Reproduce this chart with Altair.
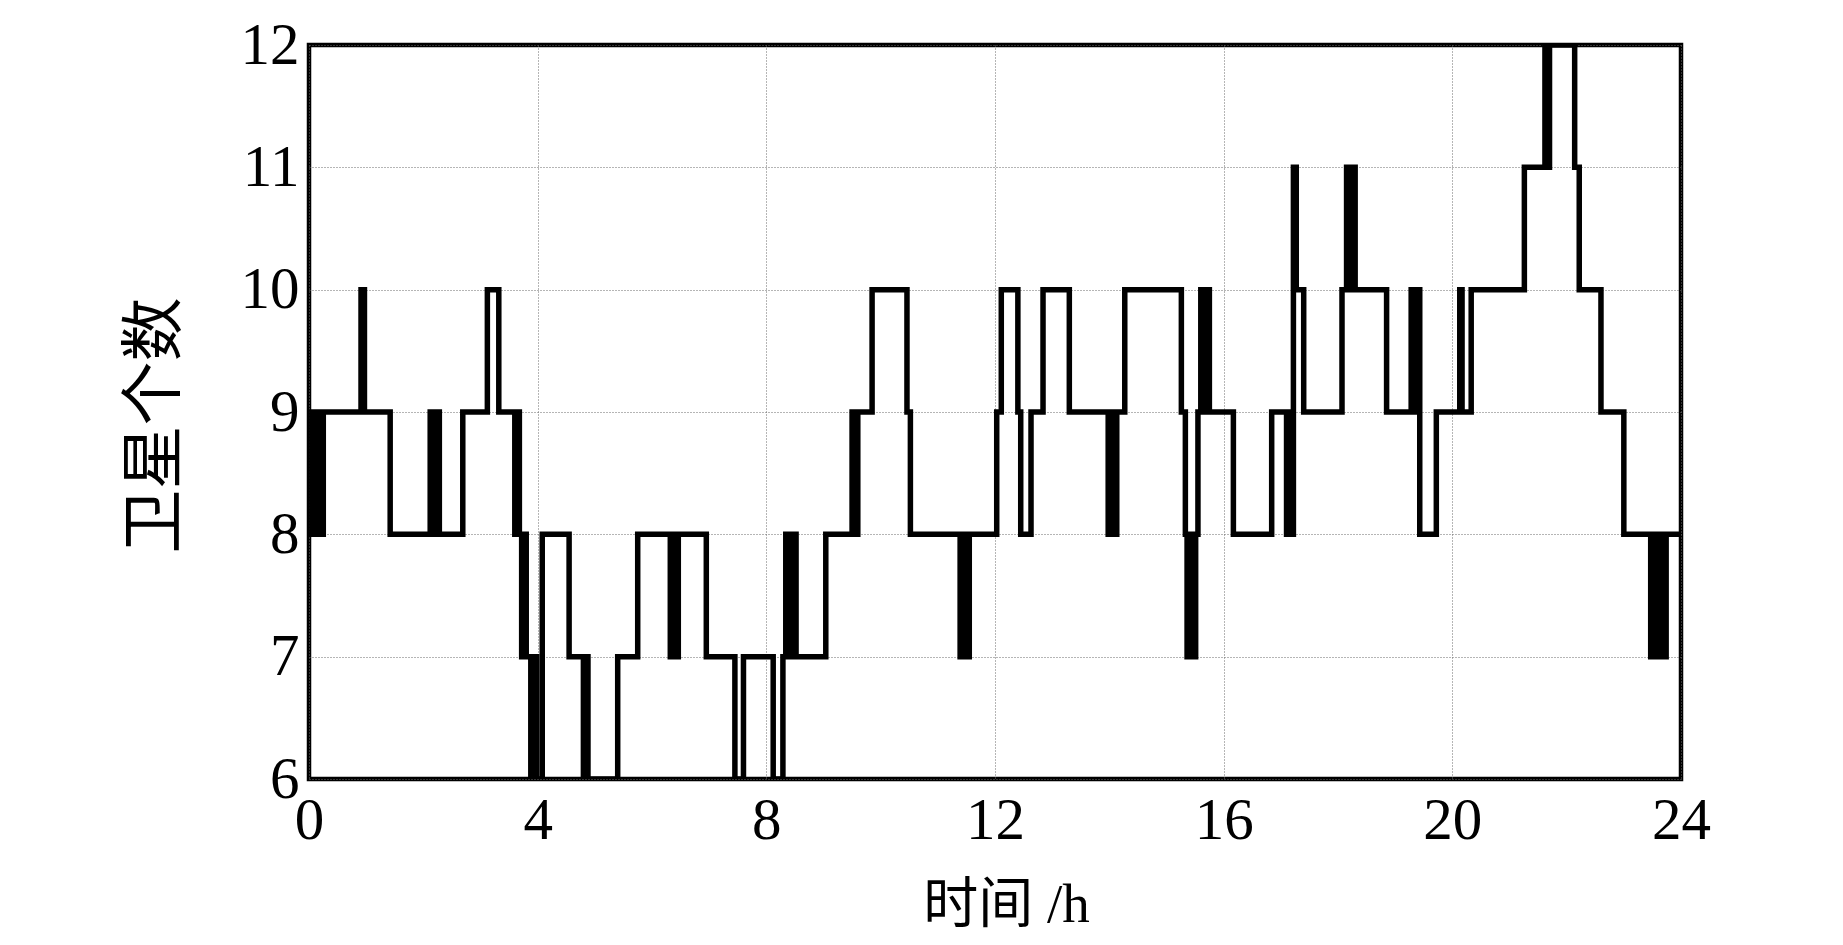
import altair as alt
import pandas as pd

# change points of the step curve (time in h, satellite count), step-after
times = [0.00, 0.05, 0.10, 0.15, 0.20, 0.25,
         0.91, 0.97,
         1.42,
         2.12, 2.17, 2.22, 2.28,
         2.69,
         3.12, 3.32,
         3.60, 3.64, 3.68, 3.72, 3.76, 3.80, 3.88, 3.93, 3.98,
         4.08, 4.55, 4.80, 4.85, 4.88,
         5.40, 5.75,
         6.32, 6.37, 6.42, 6.46,
         6.95, 7.45, 7.60,
         8.12, 8.29, 8.34, 8.40, 8.46, 8.52,
         9.04, 9.50, 9.55, 9.60,
         9.85, 10.46, 10.52,
         11.39, 11.44, 11.49, 11.55,
         12.03, 12.11, 12.40, 12.45, 12.63, 12.84, 13.30,
         13.98, 14.03, 14.08, 14.13,
         14.27, 15.26, 15.33,
         15.36, 15.41, 15.46, 15.51,
         15.55, 15.60, 15.65, 15.70, 15.75,
         16.17, 16.84,
         17.10, 17.14, 17.18, 17.22, 17.27, 17.40,
         18.07, 18.15, 18.20, 18.25, 18.30,
         18.85, 19.28, 19.33, 19.38, 19.43,
         19.72, 20.13, 20.17, 20.33,
         21.26, 21.62, 21.66, 21.70,
         22.14, 22.22, 22.60, 23.00,
         23.47, 23.52, 23.57, 23.62, 23.67, 23.74,
         24.00]

counts = [8, 9, 8, 9, 8, 9,
          10, 9,
          8,
          9, 8, 9, 8,
          9,
          10, 9,
          8, 9, 8, 7, 8, 7, 6, 7, 6,
          8, 7, 6, 7, 6,
          7, 8,
          7, 8, 7, 8,
          7, 6, 7,
          6, 7, 8, 7, 8, 7,
          8, 9, 8, 9,
          10, 9, 8,
          7, 8, 7, 8,
          9, 10, 9, 8, 9, 10, 9,
          8, 9, 8, 9,
          10, 9, 8,
          7, 8, 7, 8,
          9, 10, 9, 10, 9,
          8, 9,
          8, 9, 8, 11, 10, 9,
          10, 11, 10, 11, 10,
          9, 10, 9, 10, 8,
          9, 10, 9, 10,
          11, 12, 11, 12,
          11, 10, 9, 8,
          7, 8, 7, 8, 7, 8,
          8]

x_ticks = [0, 4, 8, 12, 16, 20, 24]
y_ticks = [6, 7, 8, 9, 10, 11, 12]

df = pd.DataFrame({"t": times, "n": counts})

serif = "Liberation Serif"
cjk = "Liberation Serif, Noto Sans CJK SC"

chart = alt.Chart(df).mark_line(
    interpolate="step-after", color="black", strokeWidth=5.5,
    strokeJoin="miter", strokeCap="round", clip=True
).encode(
    x=alt.X("t:Q",
            scale=alt.Scale(domain=[0, 24], nice=False, zero=False),
            axis=alt.Axis(values=x_ticks, title="时间 /h", format="d",
                          labelFont=serif, labelFontSize=59, labelColor="black",
                          labelPadding=12, labelFlush=False, labelOverlap=False,
                          ticks=False, domain=False,
                          grid=True, gridColor="#6a6a6a", gridDash=[1, 2], gridWidth=1,
                          titleFont=cjk, titleFontSize=55, titleFontWeight="normal",
                          titleColor="black", titleX=697, titleY=125,
                          titleAlign="center", titleBaseline="middle")),
    y=alt.Y("n:Q",
            scale=alt.Scale(domain=[6, 12], nice=False, zero=False),
            axis=alt.Axis(values=y_ticks, title="卫星个数", format="d",
                          labelFont=serif, labelFontSize=59, labelColor="black",
                          labelPadding=10, labelFlush=False, labelOverlap=False,
                          labelBaseline="middle",
                          ticks=False, domain=False,
                          grid=True, gridColor="#6a6a6a", gridDash=[1, 2], gridWidth=1,
                          titleFont=cjk, titleFontSize=64, titleFontWeight="normal",
                          titleColor="black", titleX=-154, titleY=380, titleAngle=270,
                          titleAlign="center", titleBaseline="middle")),
).properties(
    width=1372, height=734,
    autosize="none",
    background="white",
    padding={"left": 301, "top": 37, "right": 130, "bottom": 158},
).configure_view(
    stroke="black", strokeWidth=4.5
)

chart.save("out.html", embed_options={"renderer": "svg", "actions": False})
